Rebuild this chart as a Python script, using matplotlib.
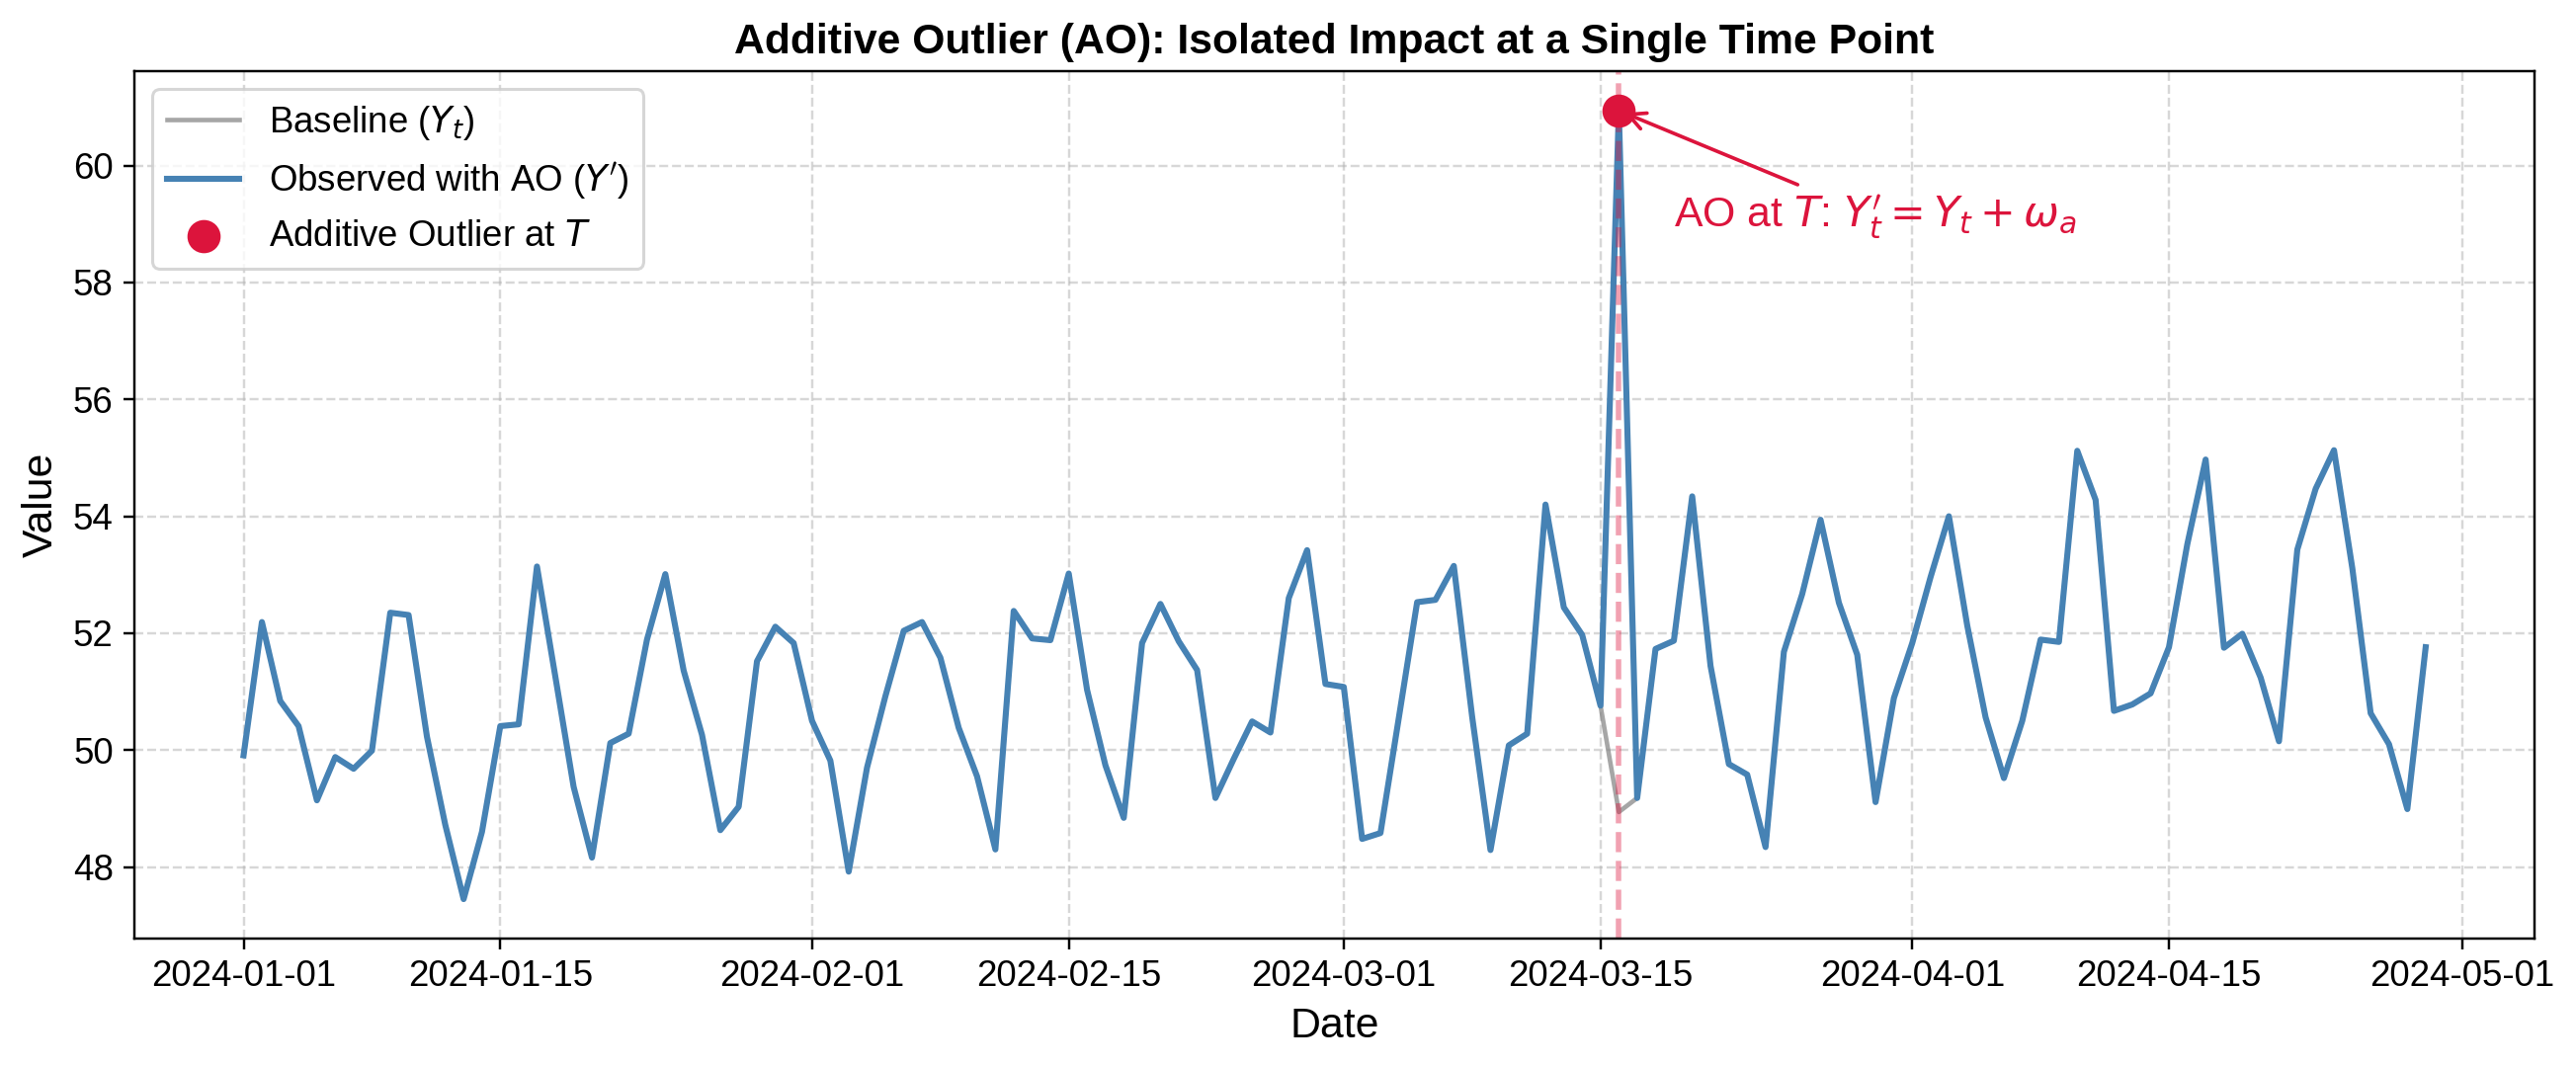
import matplotlib
matplotlib.use("Agg")
import matplotlib.pyplot as plt
import pandas as pd

plt.rcParams['font.family'] = ['Liberation Sans', 'DejaVu Sans']

# daily series, 2024-01-01 .. 2024-04-29
start_date = "2024-01-01"
baseline = [
    49.91, 52.19, 50.84, 50.41, 49.14, 49.88, 49.68, 49.99, 52.35, 52.31,
    50.23, 48.72, 47.45, 48.60, 50.41, 50.44, 53.14, 51.26, 49.37, 48.16,
    50.12, 50.28, 51.89, 53.01, 51.36, 50.26, 48.63, 49.03, 51.52, 52.11,
    51.83, 50.50, 49.82, 47.92, 49.70, 50.92, 52.04, 52.19, 51.58, 50.38,
    49.55, 48.30, 52.38, 51.91, 51.88, 53.02, 51.03, 49.74, 48.84, 51.83,
    52.50, 51.86, 51.37, 49.18, 49.85, 50.49, 50.30, 52.60, 53.42, 51.13,
    51.08, 48.48, 48.58, 50.55, 52.53, 52.57, 53.15, 50.57, 48.29, 50.08,
    50.28, 54.20, 52.44, 51.97, 50.76, 48.94, 49.18, 51.73, 51.87, 54.34,
    51.44, 49.76, 49.58, 48.34, 51.68, 52.67, 53.94, 52.52, 51.63, 49.11,
    50.89, 51.83, 52.96, 54.00, 52.13, 50.56, 49.52, 50.50, 51.89, 51.85,
    55.12, 54.28, 50.67, 50.78, 50.97, 51.76, 53.52, 54.97, 51.75, 51.99,
    51.24, 50.15, 53.43, 54.47, 55.13, 53.11, 50.63, 50.10, 48.99, 51.76,
]
outlier_idx = 75      # 2024-03-16
omega_a = 12.0

dates = pd.date_range(start_date, periods=len(baseline), freq="D")
observed = list(baseline)
observed[outlier_idx] = baseline[outlier_idx] + omega_a

T = dates[outlier_idx]
peak = observed[outlier_idx]

fig = plt.figure(figsize=(2607 / 220, 1080 / 220), dpi=220)
ax = fig.add_subplot(111)
fig.subplots_adjust(left=0.0522, right=0.984, bottom=0.1204, top=0.9333)

ax.plot(dates, baseline, color='gray', lw=1.5, alpha=0.7, label=r'Baseline ($Y_t$)')
ax.plot(dates, observed, color='steelblue', lw=2, label=r"Observed with AO ($Y'$)")
ax.scatter([T], [peak], color='crimson', s=100, zorder=5, label=r'Additive Outlier at $T$')
ax.axvline(T, color='crimson', linestyle='--', alpha=0.4, lw=1.8)

ax.annotate(r"AO at $T$: $Y_t' = Y_t + \omega_a$",
            xy=(T, peak), xytext=(dates[outlier_idx + 3], peak - 2),
            color='crimson', fontsize=14,
            arrowprops=dict(arrowstyle='->', color='crimson', lw=1.2))

ax.set_title('Additive Outlier (AO): Isolated Impact at a Single Time Point',
             fontsize=14, fontweight='bold')
ax.set_xlabel('Date', fontsize=14)
ax.set_ylabel('Value', fontsize=14)
ax.tick_params(labelsize=12)
ax.grid(True, linestyle='--', alpha=0.5)
ax.legend(loc='upper left', fontsize=12)

fig.savefig('out.png', dpi=220)
